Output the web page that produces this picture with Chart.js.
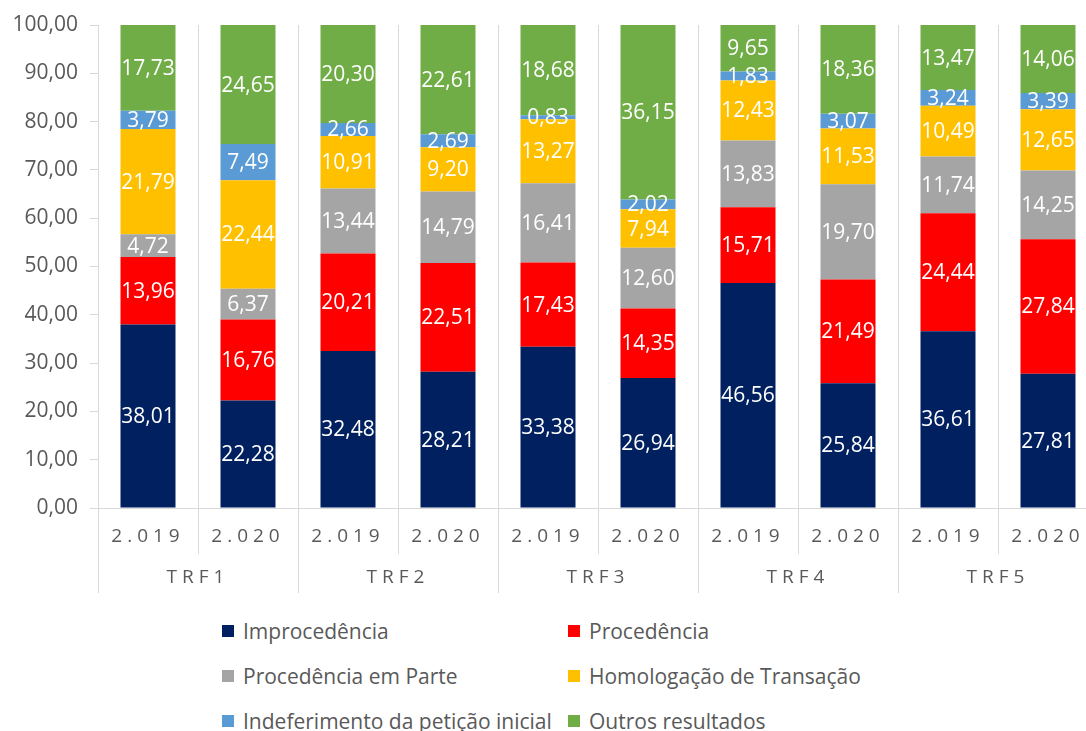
<!DOCTYPE html>
<html lang="pt-BR">
<head>
<meta charset="utf-8">
<title>Resultados por TRF</title>
<script src="https://cdn.jsdelivr.net/npm/chart.js@4.4.1/dist/chart.umd.min.js"></script>
<style>
  html, body { margin: 0; background: #fff; overflow: hidden; }
  #wrap { position: relative; width: 1086px; height: 731px; overflow: hidden; }
  #resultChart { position: absolute; left: 0; top: 0; }
  #legend { position: absolute; left: 0; top: 608px; width: 1086px; height: 123px; }
  .item {
    position: absolute; height: 45px; display: flex; align-items: center;
    font: 21px "Open Sans", sans-serif; color: #595959; white-space: nowrap;
  }
  .item span.box { width: 12px; height: 12px; margin-right: 9px; }
</style>
</head>
<body>
<div id="wrap">
  <canvas id="resultChart" width="1098" height="600"></canvas>
  <div id="legend"></div>
</div>
<script>
const groups = ["TRF1", "TRF2", "TRF3", "TRF4", "TRF5"];
const years = ["2.019", "2.020"];
const categories = groups.flatMap(() => years);

// percentuais por tribunal e ano (2019, 2020)
const improcedencia = [38.01, 22.28, 32.48, 28.21, 33.38, 26.94, 46.56, 25.84, 36.61, 27.81];
const procedencia = [13.96, 16.76, 20.21, 22.51, 17.43, 14.35, 15.71, 21.49, 24.44, 27.84];
const procedenciaParte = [4.72, 6.37, 13.44, 14.79, 16.41, 12.60, 13.83, 19.70, 11.74, 14.25];
const homologacao = [21.79, 22.44, 10.91, 9.20, 13.27, 7.94, 12.43, 11.53, 10.49, 12.65];
const indeferimento = [3.79, 7.49, 2.66, 2.69, 0.83, 2.02, 1.83, 3.07, 3.24, 3.39];
const outros = [17.73, 24.65, 20.30, 22.61, 18.68, 36.15, 9.65, 18.36, 13.47, 14.06];

const FONT = "'Open Sans'";
const GRID = "#d9d9d9";
const TEXT = "#595959";

const fmt = (v) => Number(v).toFixed(2).replace(".", ",");

// rótulos brancos no meio de cada segmento
const segmentLabels = {
  id: "segmentLabels",
  afterDatasetsDraw(chart) {
    const ctx = chart.ctx;
    ctx.save();
    ctx.font = "21px " + FONT;
    ctx.fillStyle = "#ffffff";
    ctx.textAlign = "center";
    ctx.textBaseline = "middle";
    chart.data.datasets.forEach((ds, i) => {
      chart.getDatasetMeta(i).data.forEach((bar, j) => {
        const p = bar.getCenterPoint();
        ctx.fillText(fmt(ds.data[j]), p.x, p.y + 1);
      });
    });
    ctx.restore();
    // os rótulos do eixo x (z: 1) são desenhados depois, espaçados
    ctx.letterSpacing = "5px";
  },
  afterDraw(chart) {
    chart.ctx.letterSpacing = "0px";
  },
};

const ctx = document.getElementById("resultChart").getContext("2d");

const chart = new Chart(ctx, {
  type: "bar",
  data: {
    labels: categories,
    datasets: [
      { label: "Improcedência", data: improcedencia, backgroundColor: "#002060" },
      { label: "Procedência", data: procedencia, backgroundColor: "#ff0000" },
      { label: "Procedência em Parte", data: procedenciaParte, backgroundColor: "#a5a5a5" },
      { label: "Homologação de Transação", data: homologacao, backgroundColor: "#ffc000" },
      { label: "Indeferimento da petição inicial", data: indeferimento, backgroundColor: "#5b9bd5" },
      { label: "Outros resultados", data: outros, backgroundColor: "#70ad47" },
    ],
  },
  options: {
    responsive: false,
    animation: false,
    categoryPercentage: 1,
    barPercentage: 0.55,
    layout: {
      padding: { top: 25, right: 0, bottom: 7, left: 0 },
    },
    plugins: {
      legend: { display: false },
      tooltip: { enabled: false },
    },
    scales: {
      x: {
        stacked: true,
        grid: { offset: true, color: GRID, tickLength: 46 },
        border: { color: GRID },
        ticks: {
          color: TEXT,
          font: { family: FONT, size: 19 },
          padding: -29,
          autoSkip: false,
          maxRotation: 0,
          z: 1,
        },
        afterFit: (s) => { s.height = 46; },
      },
      x2: {
        type: "category",
        labels: groups,
        position: "bottom",
        offset: true,
        grid: { offset: true, drawOnChartArea: false, color: GRID, tickLength: 39 },
        border: { display: false },
        ticks: {
          color: TEXT,
          font: { family: FONT, size: 19 },
          padding: -27,
          autoSkip: false,
          maxRotation: 0,
          z: 1,
        },
        afterFit: (s) => { s.height = 39; },
      },
      y: {
        stacked: true,
        min: 0,
        max: 100,
        ticks: {
          stepSize: 10,
          color: TEXT,
          font: { family: FONT, size: 21 },
          padding: 12,
          callback: (v) => fmt(v),
        },
        grid: { drawOnChartArea: false, color: GRID, tickLength: 8 },
        border: { color: GRID },
        afterFit: (s) => { s.width = 98; },
      },
    },
  },
  plugins: [segmentLabels],
});

// legenda em duas colunas, montada a partir dos datasets
const legend = document.getElementById("legend");
chart.data.datasets.forEach((ds, i) => {
  const item = document.createElement("div");
  item.className = "item";
  item.style.left = (i % 2 ? 568 : 222) + "px";
  item.style.top = Math.floor(i / 2) * 45 + "px";
  const box = document.createElement("span");
  box.className = "box";
  box.style.background = ds.backgroundColor;
  item.appendChild(box);
  item.appendChild(document.createTextNode(ds.label));
  legend.appendChild(item);
});
</script>
</body>
</html>
